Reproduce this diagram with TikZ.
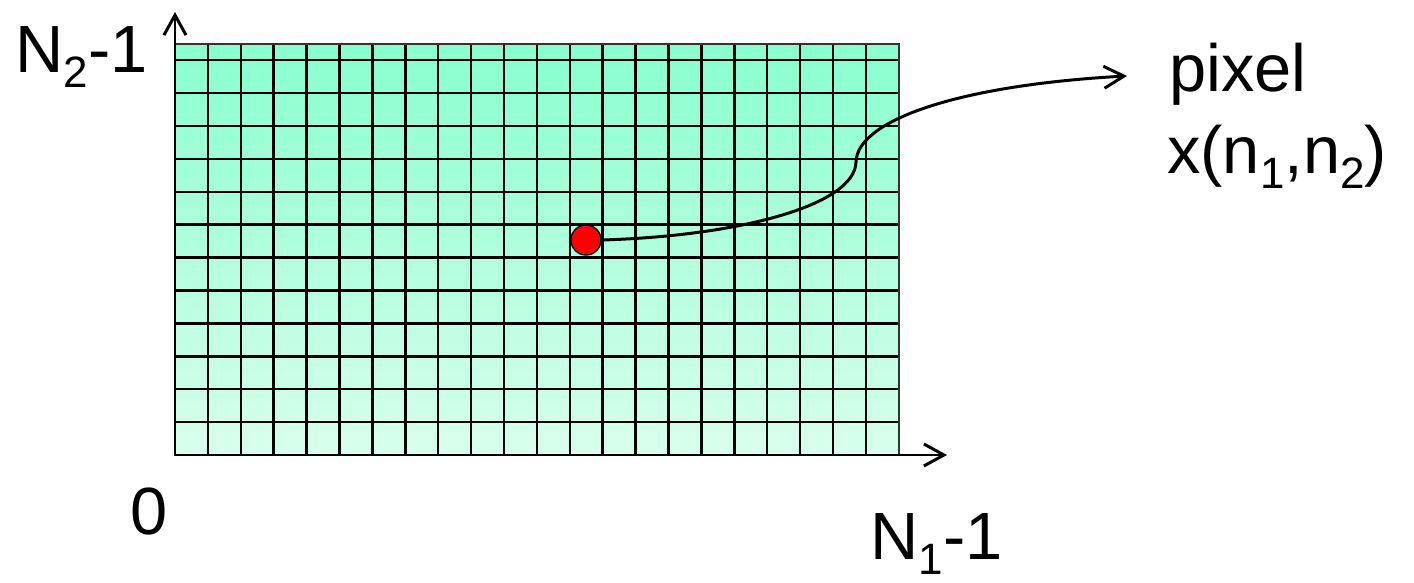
\documentclass[tikz,border=0pt]{standalone}
\usepackage{fontspec}
\setmainfont{Liberation Sans}
\usetikzlibrary{arrows.meta}
\definecolor{celltop}{RGB}{136,255,206}
\definecolor{cellbot}{RGB}{216,255,236}
\newcommand{\lowsub}[1]{\raisebox{-0.22em}{\fontsize{25}{25}\selectfont #1}}

\begin{document}
\begin{tikzpicture}[>={Straight Barb[length=0.4cm,width=0.44cm]},font=\fontsize{38}{46}\selectfont]
    \tikzset{
      axisline/.style={->, line width=1.7pt},
      axistext/.style={inner sep=0pt, anchor=base},
      sidetext/.style={inner sep=0pt, anchor=base west}
    }
    \useasboundingbox (0,0) rectangle (28.28,11.66);
    % Pixel grid
    \begin{scope}[shift={(3.5,2.56)}, scale=0.658]
      \shade[top color=celltop, bottom color=cellbot] (0,0) rectangle (22,12.5);
      \draw[line width=1.4pt] (0,0) grid (22,12.5);
      \draw[line width=1.4pt, black!80] (0,0) rectangle (22,12.5);
    \end{scope}
    % Axes
    \coordinate (origin) at (3.5,2.56);
    \coordinate (ytip)   at (3.5,11.42);
    \coordinate (xtip)   at (18.94,2.56);
    \draw[axisline] (origin) -- (ytip);
    \draw[axisline] (origin) -- (xtip);
    % Axis labels
    \node[axistext] (ymax) at (1.63,10.2)  {N\lowsub{2}-1};
    \node[axistext] (zero) at (2.99,0.96)  {0};
    \node[axistext] (xmax) at (18.73,0.46) {N\lowsub{1}-1};
    % Pixel and its label
    \node[circle, fill=red, draw, line width=0.8pt, minimum size=0.6cm, inner sep=0pt] (dot) at (11.72,6.86) {};
    \node[sidetext] (pixname) at (23.38,9.82) {pixel};
    \node[sidetext] (pixval)  at (23.34,8.18) {x(n\lowsub{1},n\lowsub{2})};
    \coordinate (tip) at (22.54,10.14);
    \draw[->, line width=1.7pt] (dot.east) .. controls (14.8,6.94) and (17.1,7.56) .. (17.12,8.42)
                                           .. controls (17.14,9.26) and (19.2,9.96) .. (tip);
\end{tikzpicture}
\end{document}
